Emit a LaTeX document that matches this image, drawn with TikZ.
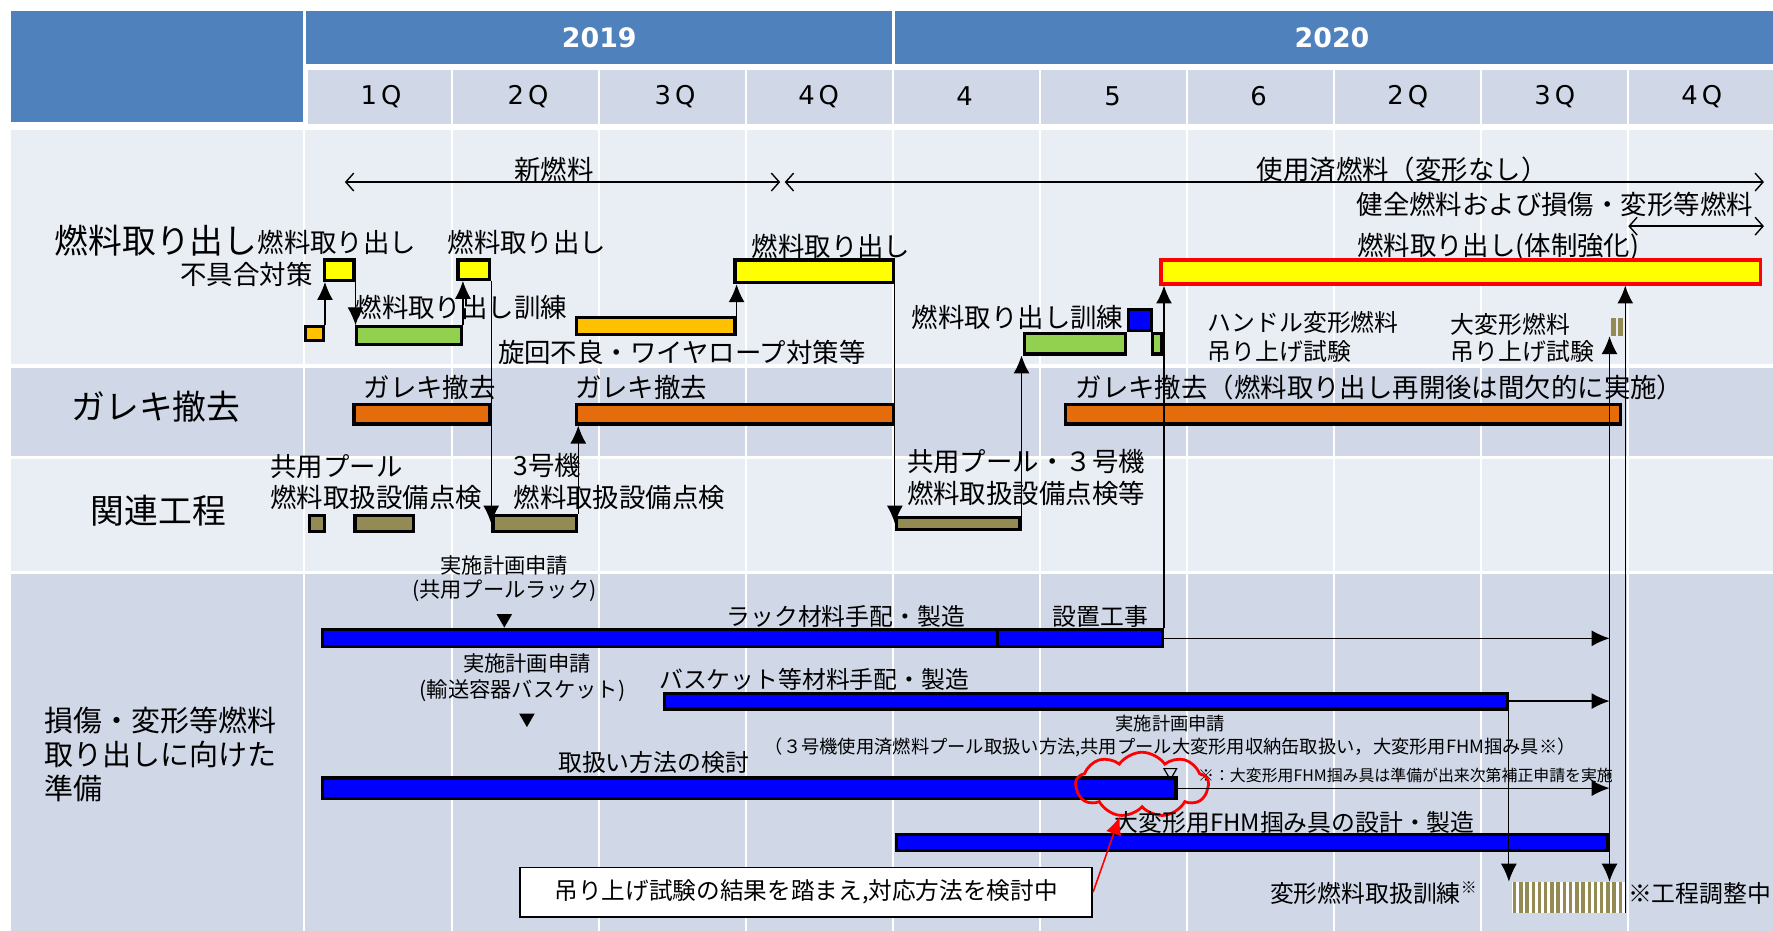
\documentclass[tikz,border=0pt]{standalone}
\usepackage{fontspec}
\setmainfont{Noto Sans CJK JP}
\newfontfamily\latinfont{DejaVu Sans}
\usetikzlibrary{arrows.meta,fit,shapes.geometric,shapes.symbols}

\definecolor{hdblue}{HTML}{4F81BD}
\definecolor{rowlt}{HTML}{E9EDF4}
\definecolor{rowdk}{HTML}{D0D8E8}
\definecolor{barblue}{HTML}{0000FF}
\definecolor{baryel}{HTML}{FFFF00}
\definecolor{bargrn}{HTML}{92D050}
\definecolor{barorg}{HTML}{FFC000}
\definecolor{barrub}{HTML}{E46C0A}
\definecolor{barbrn}{HTML}{948A54}

\tikzset{
  gbar/.style={draw=black, line width=1.6pt, inner sep=0pt},
  arr/.style={->, line width=0.6pt},
  span/.style={{Straight Barb[length=4pt,width=9pt]}-{Straight Barb[length=4pt,width=9pt]}, line width=0.7pt},
  yr/.style={text=white, font=\latinfont\bfseries\fontsize{13.5}{16}\selectfont},
  qt/.style={font=\latinfont\fontsize{13}{16}\selectfont},
  tA/.style={font=\fontsize{17}{20}\selectfont},
  tE/.style={font=\fontsize{14.6}{17}\selectfont, align=left},
  tB/.style={font=\fontsize{13.3}{15.5}\selectfont},
  tM/.style={font=\fontsize{12}{14}\selectfont},
  tC/.style={font=\fontsize{10.7}{12.5}\selectfont},
  tD/.style={font=\fontsize{9.2}{11}\selectfont},
  tN/.style={font=\fontsize{8}{10}\selectfont},
  mark down/.style={regular polygon, regular polygon sides=3, shape border rotate=180, inner sep=0pt, minimum size=0.32cm},
}

\begin{document}
\begin{tikzpicture}[x=0.02cm, y=-0.02cm, >={Latex[length=9pt,width=8pt]}]
\useasboundingbox (0,0) rectangle (1568,823);
% header
\fill[hdblue] (10,10) rectangle (268,108);
\fill[hdblue] (271,10) rectangle (1568,57);
\fill[rowdk] (272,62) rectangle (1568,110);
% rows
\fill[rowlt] (10,115) rectangle (1568,322);
\fill[rowdk] (10,325) rectangle (1568,403);
\fill[rowlt] (10,406) rectangle (1568,505);
\fill[rowdk] (10,508) rectangle (1568,823);
% grid
\draw[white, line width=1.2pt] (269,62) -- (269,823);
\foreach \gx in {400,530,...,1440}
  \draw[white, line width=1.2pt] (\gx,62) -- (\gx,823);
\draw[white, line width=1.5pt] (790,10) -- (790,57);

\node[yr] (y19) at (530,33) {2019};
\node[yr] (y20) at (1178,33) {2020};
\foreach \qx/\ql [count=\i] in {337/1\kern2pt Q,467/2\kern2pt Q,597/3\kern2pt Q,724/4\kern2pt Q,853/4,984/5,1113/6,1245/2\kern2pt Q,1375/3\kern2pt Q,1505/4\kern2pt Q}
  \node[qt] (q\i) at (\qx,85) {\ql};

% row labels
\node[tA] (lab1) at (138,213) {燃料取り出し};
\node[tA] (lab2) at (138,360) {ガレキ撤去};
\node[tA] (lab3) at (140,452) {関連工程};
\node[tE, anchor=west] (lab4) at (33,667) {損傷・変形等燃料\\取り出しに向けた\\準備};

% fuel removal
\coordinate (n0) at (305,161);
\coordinate (n1) at (690,161);
\coordinate (u0) at (694,161);
\coordinate (u1) at (1560,161);
\coordinate (k0) at (1440,200);
\coordinate (k1) at (1560,200);
\draw[span] (n0) -- (n1);
\draw[span] (u0) -- (u1);
\draw[span] (k0) -- (k1);
\node[tB] (tnew) at (490,150) {新燃料};
\node[tB] (tused) at (1240,150) {使用済燃料（変形なし）};
\node[tB] (tall) at (1375,181) {健全燃料および損傷・変形等燃料};

\node[tB] (t1) at (298,214) {燃料取り出し};
\node[tB] (t1b) at (218,243) {不具合対策};
\node[tB] (t2) at (466,214) {燃料取り出し};
\node[tB] (t3) at (408,272) {燃料取り出し訓練};
\node[tB] (t4) at (603,312) {旋回不良・ワイヤロープ対策等};
\node[tB] (t5) at (735,218) {燃料取り出し};
\node[tB] (t6) at (1325,218) {燃料取り出し(体制強化)};
\node[tB] (t7) at (900,281) {燃料取り出し訓練};
\node[tM, anchor=west] (t8) at (1062,285) {ハンドル変形燃料};
\node[tM, anchor=west] (t8b) at (1062,311) {吊り上げ試験};
\node[tM, anchor=west] (t9) at (1277,287) {大変形燃料};
\node[tM, anchor=west] (t9b) at (1277,311) {吊り上げ試験};

\node[gbar, fill=barorg, fit={(270,289) (286,301)}] (o0) {};
\node[gbar, fill=baryel, fit={(287,230) (313,248)}] (y1) {};
\node[gbar, fill=bargrn, fit={(315,289) (408,305)}] (g1) {};
\node[gbar, fill=baryel, fit={(405,230) (433,247)}] (y2) {};
\node[gbar, fill=barorg, fit={(510,281) (650,296)}] (o1) {};
\node[gbar, fill=baryel, fit={(650,230) (790,250)}] (y3) {};
\node[gbar, fill=bargrn, fit={(906,295) (995,313)}] (g2) {};
\node[gbar, fill=barblue, fit={(998,274) (1018,292)}] (bb) {};
\node[gbar, fill=bargrn, fit={(1019,295) (1027,313)}] (g3) {};
\node[draw=red, line width=1.8pt, inner sep=0pt, fill=baryel, fit={(1027,230) (1557,251)}] (Y) {};
\node[inner sep=0pt, fit={(1425,281) (1436,297)}] (sm) {};
\fill[barbrn] (1425,281) rectangle (1429,297);
\fill[barbrn] (1431,281) rectangle (1435,297);

% debris removal
\node[tB] (g1t) at (380,343) {ガレキ撤去};
\node[tB] (g2t) at (567,343) {ガレキ撤去};
\node[tB] (g3t) at (1220,343) {ガレキ撤去（燃料取り出し再開後は間欠的に実施）};
\node[gbar, fill=barrub, fit={(313,358) (433,375)}] (r1) {};
\node[gbar, fill=barrub, fit={(510,358) (790,375)}] (r2) {};
\node[gbar, fill=barrub, fit={(942,358) (1433,375)}] (r3) {};

% related work
\node[tB, anchor=west] (c1) at (233,413) {共用プール};
\node[tB, anchor=west] (c1b) at (233,440) {燃料取扱設備点検};
\node[tB, anchor=west] (c2) at (448,412) {3号機};
\node[tB, anchor=west] (c2b) at (448,440) {燃料取扱設備点検};
\node[tB, anchor=west] (c3) at (796,408) {共用プール・３号機};
\node[tB, anchor=west] (c3b) at (796,436) {燃料取扱設備点検等};
\node[gbar, fill=barbrn, fit={(274,456) (287,470)}] (b1) {};
\node[gbar, fill=barbrn, fit={(314,456) (366,470)}] (b2) {};
\node[gbar, fill=barbrn, fit={(436,456) (510,470)}] (b3) {};
\node[gbar, fill=barbrn, fit={(793,458) (902,468)}] (b4) {};

% preparation
\node[tC] (a1) at (446,500) {実施計画申請};
\node[tC] (a1b) at (446,522) {(共用プールラック)};
\node[mark down, fill=black] (m1) at (446,547) {};
\node[tM] (k1t) at (748,545) {ラック材料手配・製造};
\node[tM] (k2t) at (973,545) {設置工事};
\node[gbar, fill=barblue, fit={(285,557) (882,572)}] (k1) {};
\node[gbar, fill=barblue, fit={(882,557) (1028,572)}] (k2) {};

\node[tC] (a2) at (466,587) {実施計画申請};
\node[tC] (a2b) at (462,611) {(輸送容器バスケット)};
\node[mark down, fill=black] (m2) at (466,635) {};
\node[tM] (bkt) at (720,601) {バスケット等材料手配・製造};
\node[gbar, fill=barblue, fit={(588,613) (1333,627)}] (bk) {};

\node[tD] (a3) at (1035,640) {実施計画申請};
\node[tD] (a3b) at (1035,661) {（３号機使用済燃料プール取扱い方法,共用プール大変形用収納缶取扱い，大変形用FHM掴み具※）};
\node[tM] (hdt) at (578,674) {取扱い方法の検討};
\node[gbar, fill=barblue, fit={(285,688) (1040,706)}] (hd) {};
\node[mark down, draw=black, line width=0.6pt, minimum size=0.26cm] (m3) at (1035,683) {};
\node[tN] (note) at (1243,686) {※：大変形用FHM掴み具は準備が出来次第補正申請を実施};
\node[cloud, cloud puffs=9, cloud puff arc=110, cloud ignores aspect, draw=red, line width=1.4pt, minimum width=2.35cm, minimum height=1.15cm] (cld) at (1010,694) {};

\node[tM] (fht) at (1145,727) {大変形用FHM掴み具の設計・製造};
\node[gbar, fill=barblue, fit={(793,738) (1422,752)}] (fh) {};

\node[draw=black, line width=0.8pt, fill=white, minimum width=10.12cm, minimum height=0.88cm, font=\fontsize{11.9}{14}\selectfont] (call) at (713,789) {吊り上げ試験の結果を踏まえ,対応方法を検討中};
\node[tM] (trn) at (1215,790) {変形燃料取扱訓練\textsuperscript{※}};
\node[inner sep=0pt, fill=white, fit={(1337,780) (1437,807)}] (st) {};
\foreach \i in {0,...,17}
  \fill[barbrn] ({1338+\i*5.5},780) rectangle +(3,27);
\node[tM] (adj) at (1503,790) {※工程調整中};

% connectors
\draw[arr] (o0.north east) -- (o0.north east |- y1.south);
\draw[arr] (y1.south east) -- (y1.south east |- g1.north);
\draw[arr] (g1.north east) -- (g1.north east |- y2.south);
\draw[arr] (y2.south east) -- (y2.south east |- b3.west);
\draw[arr] (b3.north east) -- (b3.north east |- r2.south);
\draw[arr] (o1.north east) -- (o1.north east |- y3.south);
\draw[arr] (y3.south east) -- (y3.south east |- b4.west);
\draw[arr] (b4.east) -- (b4.east |- g2.south);
\draw[arr] (k2.north east) -- (k2.north east |- Y.south);
\draw[arr] (k2.east) -- (k2.east -| fh.east);
\draw[arr] (bk.east) -- (bk.east -| fh.east);
\draw[arr] (hd.east) -- (hd.east -| fh.east);
\draw[arr] (bk.south east) -- (bk.south east |- st.north);
\draw[arr] (fh.east) -- (fh.east |- sm.south);
\draw[arr] (fh.east) -- (fh.east |- st.north);
\draw[arr] (st.south east) -- (st.south east |- Y.south);
\draw[arr, red, line width=0.8pt] (call.east) -- (cld.235);
\end{tikzpicture}
\end{document}
